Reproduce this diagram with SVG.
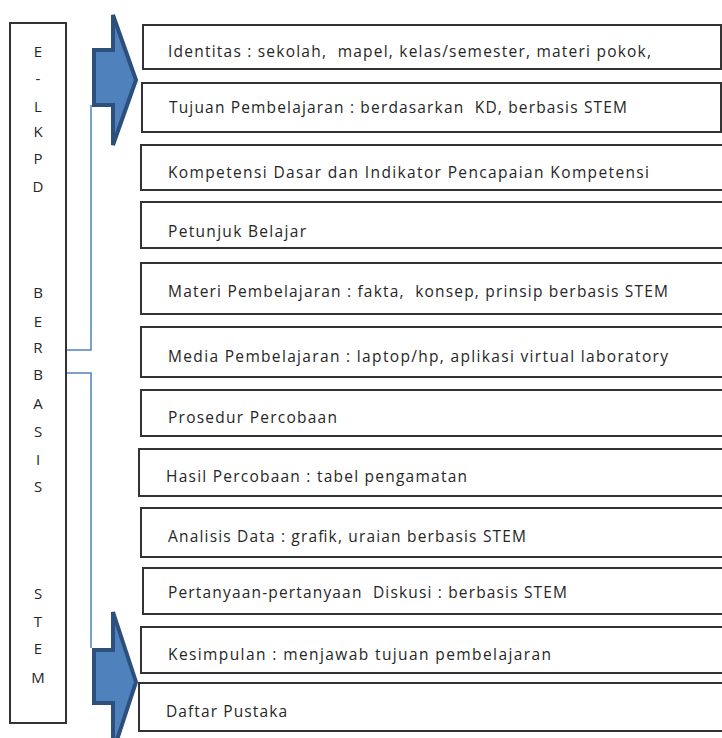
<svg xmlns="http://www.w3.org/2000/svg" width="722" height="738" viewBox="0 0 722 738">
<style>
.box{fill:#fff;stroke:#333;stroke-width:2}
.lbl{font-family:"Open Sans","Liberation Sans",sans-serif;font-size:15.5px;fill:#262626;white-space:pre}
.ltr{font-family:"Open Sans","Liberation Sans",sans-serif;font-size:15px;fill:#262626;text-anchor:middle}
.conn{fill:none;stroke:#4f81bd;stroke-width:1.5}
.arrow{fill:#4f81bd;stroke:#2c4f7c;stroke-width:4;stroke-linejoin:miter}
</style>
<rect width="722" height="738" fill="#fff"/>
<g id="connectors">
<polyline class="conn" points="91,105 91,350 66,350"/>
<polyline class="conn" points="66,373 91,373 91,648"/>
<polygon class="arrow" points="94,50 113,50 113,15 136,80 113,145 113,105 94,105"/>
<polygon class="arrow" points="94,650 113,650 113,612 136,682 113,752 113,703 94,703"/>
</g>
<g id="elkpd">
<rect class="box" x="10" y="23" width="56" height="700"/>
<text class="ltr" x="38" y="57">E</text>
<text class="ltr" x="38" y="84">-</text>
<text class="ltr" x="38" y="112">L</text>
<text class="ltr" x="38" y="137">K</text>
<text class="ltr" x="38" y="164">P</text>
<text class="ltr" x="38" y="192">D</text>
<text class="ltr" x="38" y="298">B</text>
<text class="ltr" x="38" y="327">E</text>
<text class="ltr" x="38" y="353">R</text>
<text class="ltr" x="38" y="380">B</text>
<text class="ltr" x="38" y="409">A</text>
<text class="ltr" x="38" y="437">S</text>
<text class="ltr" x="38" y="465">I</text>
<text class="ltr" x="38" y="492">S</text>
<text class="ltr" x="38" y="599">S</text>
<text class="ltr" x="38" y="627">T</text>
<text class="ltr" x="38" y="654">E</text>
<text class="ltr" x="38" y="683">M</text>
</g>
<g id="n1"><rect class="box" x="143" y="25" width="578" height="44"/><text class="lbl" x="168" y="57" textLength="483" lengthAdjust="spacing">Identitas : sekolah,  mapel, kelas/semester, materi pokok,</text></g>
<g id="n2"><rect class="box" x="142" y="83" width="579" height="49"/><text class="lbl" x="169" y="113" textLength="458" lengthAdjust="spacing">Tujuan Pembelajaran : berdasarkan  KD, berbasis STEM</text></g>
<g id="n3"><rect class="box" x="141" y="145" width="600" height="45"/><text class="lbl" x="168" y="178" textLength="481" lengthAdjust="spacing">Kompetensi Dasar dan Indikator Pencapaian Kompetensi</text></g>
<g id="n4"><rect class="box" x="141" y="202" width="600" height="46"/><text class="lbl" x="168" y="237" textLength="138" lengthAdjust="spacing">Petunjuk Belajar</text></g>
<g id="n5"><rect class="box" x="141" y="263" width="600" height="51"/><text class="lbl" x="168" y="297" textLength="500" lengthAdjust="spacing">Materi Pembelajaran : fakta,  konsep, prinsip berbasis STEM</text></g>
<g id="n6"><rect class="box" x="141" y="327" width="600" height="50"/><text class="lbl" x="168" y="362" textLength="500" lengthAdjust="spacing">Media Pembelajaran : laptop/hp, aplikasi virtual laboratory</text></g>
<g id="n7"><rect class="box" x="141" y="390" width="600" height="46"/><text class="lbl" x="168" y="423" textLength="169" lengthAdjust="spacing">Prosedur Percobaan</text></g>
<g id="n8"><rect class="box" x="139" y="449" width="600" height="47"/><text class="lbl" x="166" y="482" textLength="301" lengthAdjust="spacing">Hasil Percobaan : tabel pengamatan</text></g>
<g id="n9"><rect class="box" x="141" y="508" width="600" height="49"/><text class="lbl" x="168" y="542" textLength="358" lengthAdjust="spacing">Analisis Data : grafik, uraian berbasis STEM</text></g>
<g id="n10"><rect class="box" x="143" y="568" width="600" height="46"/><text class="lbl" x="168" y="598" textLength="399" lengthAdjust="spacing">Pertanyaan-pertanyaan  Diskusi : berbasis STEM</text></g>
<g id="n11"><rect class="box" x="141" y="627" width="600" height="46"/><text class="lbl" x="168" y="660" textLength="383" lengthAdjust="spacing">Kesimpulan : menjawab tujuan pembelajaran</text></g>
<g id="n12"><rect class="box" x="139" y="683" width="600" height="48"/><text class="lbl" x="166" y="717" textLength="121" lengthAdjust="spacing">Daftar Pustaka</text></g>
</svg>
